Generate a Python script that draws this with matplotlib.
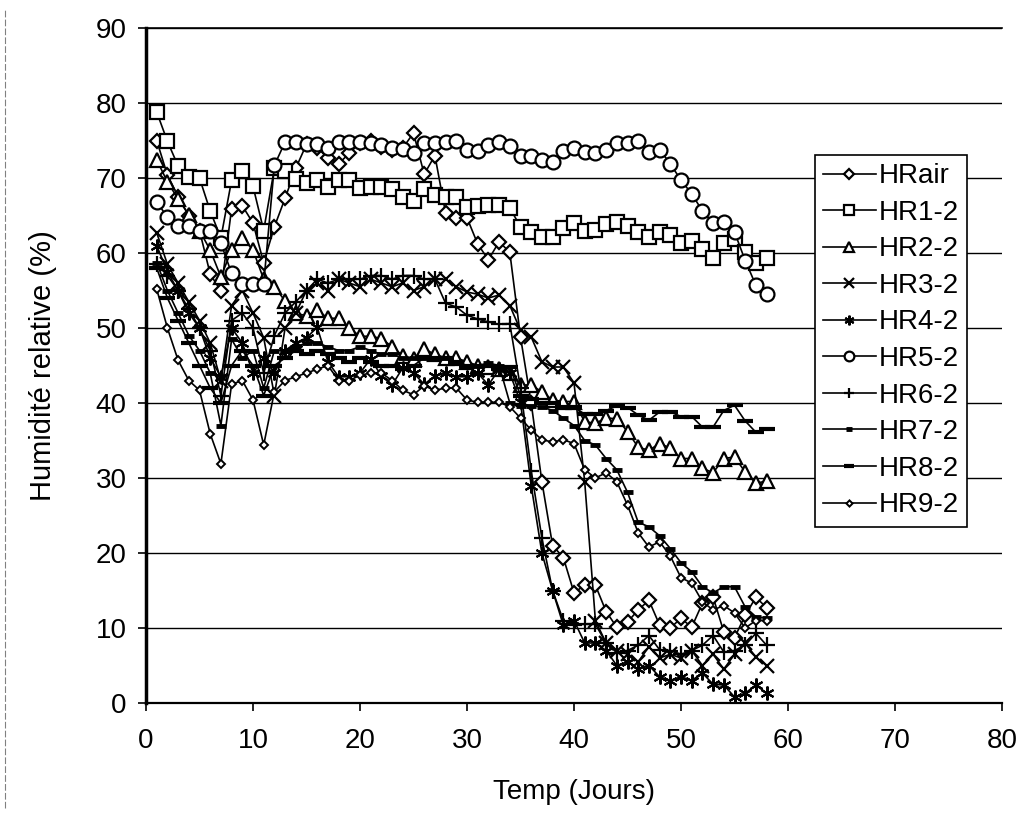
import matplotlib
matplotlib.use("Agg")
import matplotlib.pyplot as plt
from matplotlib.lines import Line2D

days = list(range(1, 59))

hr_air = [75, 70.4, 67.5, 65, 63, 57.2, 54.9, 65.9, 66.3, 64, 58.7, 63.5, 67.3, 71.3, 74.5, 74, 72.7, 71.9, 73.3, 74.7,
          75, 74.2, 73.8, 74, 76, 70.5, 73, 65.3, 64.7, 64.7, 61.2, 59.1, 61.5, 60.1, 48.8, 40, 29.5, 21, 19.4, 14.7,
          15.7, 15.7, 12.2, 10.1, 10.8, 12.4, 13.7, 10.4, 10, 11.3, 10.1, 13.3, 14.1, 9.5, 8.7, 11.7, 14.1, 12.7]
hr1 = [78.8, 74.9, 71.6, 70.1, 70, 65.6, 62, 69.7, 70.9, 68.9, 63, 71.3, 70.9, 69.9, 69.4, 69.8, 68.8, 69.7, 69.7, 68.7,
       68.8, 68.8, 68.5, 67.5, 67, 68.5, 67.7, 67.5, 67.5, 66.1, 66.3, 66.4, 66.4, 66, 63.5, 62.8, 62.1, 62.1, 63.4, 64,
       63, 63.1, 63.9, 64.2, 63.6, 62.8, 62.1, 62.8, 62.4, 61.3, 61.6, 60.5, 59.3, 61.3, 61.9, 60.2, 58.7, 59.3]
hr2 = [72.4, 69.5, 67.2, 65.1, 63, 60.4, 56.8, 60.4, 62, 60.4, 56.5, 55.5, 53.6, 52, 51.6, 52.4, 51.3, 51.3, 50, 48.9,
       48.9, 48.6, 47.5, 46.3, 45.9, 47.2, 46.5, 46, 46, 45.5, 45, 44.8, 44.5, 44, 42.4, 42.4, 41.5, 40.4, 40.2, 40.2,
       37.5, 37.3, 38, 37.9, 36.2, 34.1, 33.7, 34.6, 34, 32.6, 32.6, 31.3, 30.7, 32.6, 32.8, 30.8, 29.3, 29.6]
hr3 = [62.7, 58.5, 56, 53.5, 51, 48, 43, 53, 55, 52, 48.7, 41, 50, 52, 55, 56, 55, 56.5, 56, 55.5,
       56.5, 56, 55.5, 56, 55, 55.5, 56.5, 56.5, 55.5, 54.8, 54.5, 54, 54.4, 53, 49.7, 48.8, 45.5, 44.8, 44.8, 42.7,
       29.5, 11, 8, 7, 6.5, 5.5, 7.5, 6, 6.5, 6, 7, 5, 6.5, 4.5, 6.5, 8, 6.1, 5]
hr4 = [61, 57.5, 55, 52, 50, 46, 43.5, 50, 48, 44, 46, 44, 47, 48, 48.7, 50.1, 45.5, 43.5, 43.5, 44,
       45.9, 43.6, 42.4, 44.7, 44, 42.5, 43.6, 44, 43.5, 43.5, 44, 42.4, 44.5, 44, 40.1, 29, 20, 15, 10.4, 11,
       8, 8, 7, 5, 5.5, 4.5, 5, 3.5, 3, 3.5, 3, 4, 2.5, 2.4, 0.8, 1.3, 2.4, 1.3]
hr5 = [66.8, 64.8, 63.6, 63.6, 63, 63, 61.3, 57.3, 55.9, 55.9, 55.9, 71.7, 74.8, 74.8, 74.6, 74.6, 74, 74.8, 74.8, 74.8,
       74.7, 74.4, 74, 73.9, 73.3, 74.7, 74.7, 74.8, 74.9, 73.7, 73.6, 74.4, 74.8, 74.3, 73, 73, 72.4, 72.1, 73.6, 74,
       73.5, 73.3, 73.7, 74.7, 74.7, 74.9, 73.5, 73.8, 71.9, 69.7, 67.9, 65.6, 64, 64.1, 62.8, 59, 55.7, 54.5]
hr6 = [58.5, 57, 55, 52.5, 50, 47, 41, 51, 52, 50, 44, 49, 52, 53.5, 55, 56.5, 56, 56.5, 56.5, 56.5,
       57, 57, 56.5, 57, 57, 56.5, 56.5, 53.3, 52.8, 51.7, 51.2, 50.8, 50.5, 50.6, 42, 31, 22, 15, 11, 10.4,
       10.5, 10.5, 8, 6.7, 7, 7.7, 9, 7.1, 7, 6.5, 7, 7.7, 9, 6.8, 7, 7.7, 9.3, 7.7]
hr7 = [58.7, 55, 52, 49, 47, 44, 37, 48.5, 46, 47, 42, 47, 47, 47.5, 48, 48, 47.5, 47, 47, 47.5,
       47, 46.5, 46.5, 46, 46, 46, 46, 46, 45.5, 45, 45, 45.3, 45, 40, 39.6, 39.6, 39.5, 39, 38, 37,
       35, 34.4, 32.6, 31.1, 28.1, 24.1, 23.5, 22.3, 20.6, 18.7, 17.5, 15.5, 14.7, 15.5, 15.5, 12.8, 11.5, 11.3]
hr8 = [58, 54, 51, 48, 45, 42, 40, 45, 47, 45, 41, 45, 46, 47, 46.5, 47, 46.5, 46, 45.5, 46,
       45.5, 45, 45, 44.5, 45, 46, 46, 46, 45.5, 45, 45, 45, 44.5, 44.8, 41, 40.5, 40, 40, 39.5, 39.5,
       38.5, 38.5, 39, 39.6, 39.4, 38.4, 37.7, 38.8, 38.8, 38.2, 38.2, 36.8, 36.8, 39, 39.7, 37.6, 36.1, 36.5]
hr9 = [55.2, 50, 45.7, 43, 41.7, 35.9, 31.9, 42.5, 43, 40.4, 34.4, 41.5, 43, 43.5, 44, 44.5, 45, 43, 43, 43.7,
       44, 44, 43, 41.7, 41.1, 42.3, 41.7, 42, 42, 40.4, 40.1, 40.1, 40.1, 39.5, 38, 36.4, 35.1, 34.8, 35.1, 34.6,
       31.1, 30, 30.7, 29.5, 26.4, 22.7, 20.8, 21.5, 19.6, 16.7, 16, 13.5, 12.4, 13, 12, 10, 11, 11]

labels = ["HRair", "HR1-2", "HR2-2", "HR3-2", "HR4-2", "HR5-2", "HR6-2", "HR7-2", "HR8-2", "HR9-2"]
series = [hr_air, hr1, hr2, hr3, hr4, hr5, hr6, hr7, hr8, hr9]

x_ticks = [0, 10, 20, 30, 40, 50, 60, 70, 80]
y_ticks = [0, 10, 20, 30, 40, 50, 60, 70, 80, 90]

styles = [
    dict(marker="D", ms=7, mfc="white", mew=1.6),
    dict(marker="s", ms=10, mfc="white", mew=1.6),
    dict(marker="^", ms=10, mfc="white", mew=1.6),
    dict(marker="x", ms=10, mew=1.6),
    dict(marker=(6, 2, 0), ms=10, mew=1.5),
    dict(marker="o", ms=10, mfc="white", mew=1.6),
    dict(marker="+", ms=11, mew=1.6),
    dict(marker="_", ms=7, mew=3.5),
    dict(marker="_", ms=11, mew=3.0),
    dict(marker="D", ms=4.5, mfc="white", mew=1.4),
]

plt.rcParams['font.family'] = ['Liberation Sans', 'DejaVu Sans']

fig = plt.figure(figsize=(10.28, 8.24), dpi=100)
ax = fig.add_axes([146/1028, 1 - 703/824, 856/1028, 675/824])

for vals, lab, st in zip(series, labels, styles):
    ax.plot(days, vals, color="black", lw=1.2, mec="black", label=lab, **st)

ax.set_xlim(0, 80)
ax.set_ylim(0, 90)
ax.set_xticks(x_ticks)
ax.set_yticks(y_ticks)
ax.tick_params(axis="both", labelsize=20, direction="out", length=6, width=1.2, colors="black")
ax.tick_params(axis="x", pad=12)
ax.tick_params(axis="y", pad=8)
ax.yaxis.grid(True, color="black", lw=1.0)
ax.set_axisbelow(True)
ax.spines["right"].set_visible(False)
ax.spines["top"].set_linewidth(1.2)
ax.spines["left"].set_linewidth(2.5)
ax.spines["bottom"].set_linewidth(1.6)

ax.set_xlabel("Temp (Jours)", fontsize=20, labelpad=18)
ax.set_ylabel("Humidité relative (%)", fontsize=21, labelpad=28)

leg = ax.legend(loc="upper left", bbox_to_anchor=(0.781, 0.812), borderaxespad=0,
                fontsize=20, frameon=True, fancybox=False, edgecolor="black",
                handlelength=1.9, labelspacing=0.38, handletextpad=0.1, borderpad=0.3,
                markerscale=0.7)
leg.get_frame().set_linewidth(1.2)
leg.get_frame().set_alpha(1)

fig.add_artist(Line2D([0.005, 0.005], [0.02, 0.99], transform=fig.transFigure,
                      color="0.5", lw=0.8, ls=(0, (6, 2))))

fig.savefig("out.png", dpi=100, facecolor="white")
